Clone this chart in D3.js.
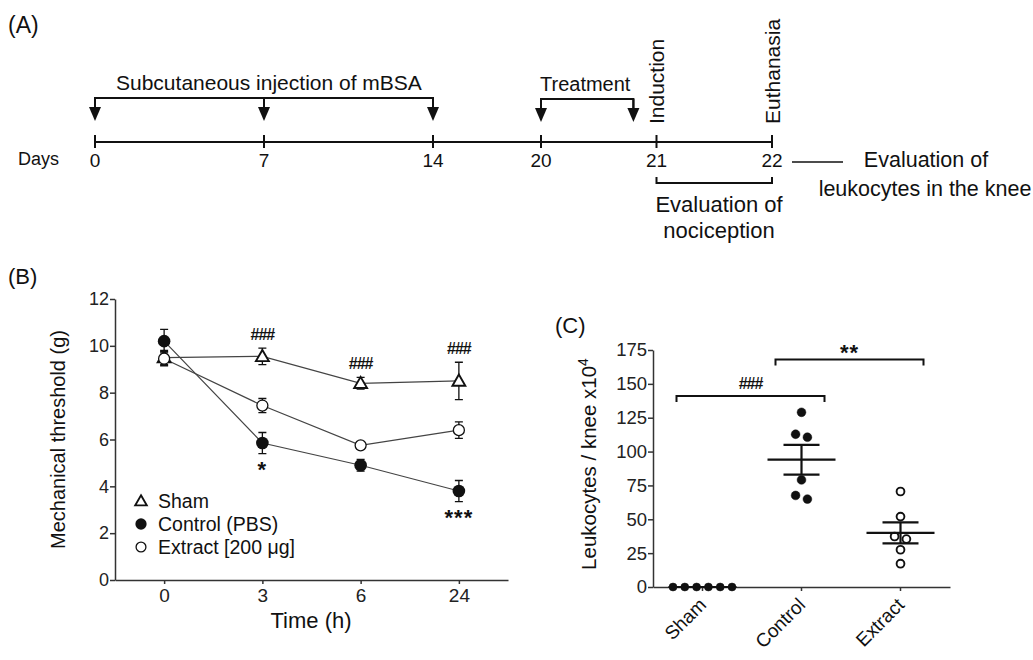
<!DOCTYPE html>
<html>
<head>
<meta charset="utf-8">
<script src="https://cdn.jsdelivr.net/npm/d3@7"></script>
<style>
  body { margin: 0; background: #fff; }
  svg { font-family: "Liberation Sans", Arial, sans-serif; fill: #111; }
</style>
</head>
<body>
<div id="chart"></div>
<script>
// ---- Panel A: protocol timeline ----
const timelineDays = [0, 7, 14, 20, 21, 22];
const injectionDays = [0, 7, 14];
const treatmentDays = [20, 20.8];
const eventDays = [21, 22];
const eventNames = ["Induction", "Euthanasia"];

// ---- Panel B: mechanical threshold over time ----
const timePoints = ["0", "3", "6", "24"];
const shamMean = [9.5, 9.55, 8.4, 8.5];
const shamErr = [0.3, 0.35, 0.25, 0.8];
const controlMean = [10.2, 5.85, 4.9, 3.8];
const controlErr = [0.5, 0.45, 0.25, 0.45];
const extractMean = [9.45, 7.45, 5.75, 6.4];
const extractErr = [0.3, 0.3, 0.15, 0.35];
const shamSig = ["", "###", "###", "###"];
const controlSig = ["", "*", "", "***"];
const thresholdTicks = [0, 2, 4, 6, 8, 10, 12];

// ---- Panel C: leukocytes per knee ----
const groups = ["Sham", "Control", "Extract"];
const shamCells = [0, 0, 0, 0, 0, 0];
const controlCells = [129, 112.8, 110.6, 79.1, 67.6, 64.9];
const extractCells = [70.5, 52, 37.3, 35.4, 27.5, 17.2];
const leukocyteTicks = [0, 25, 50, 75, 100, 125, 150, 175];
const bracketPairs = [["Sham", "Control"], ["Control", "Extract"]];
const bracketLevels = [141, 168];
const bracketLabels = ["###", "**"];

const svg = d3.select('#chart').append('svg')
  .attr('width', 1033)
  .attr('height', 660);

function styleAxis(g, fontSize) {
  g.select('.domain').attr('stroke', '#333').attr('stroke-width', 1.5);
  g.selectAll('.tick line').attr('stroke', '#333').attr('stroke-width', 1.5);
  g.selectAll('.tick text')
    .attr('fill', '#222')
    .style('font-size', fontSize + 'px')
    .style('font-family', '"Liberation Sans", Arial, sans-serif');
}

function panelLabel(x, y, t, size) {
  svg.append('text').attr('x', x).attr('y', y)
    .style('font-size', size + 'px').attr('fill', '#111').text(t);
}

// ================= Panel A =================
panelLabel(8, 33, '(A)', 23);

const day = d3.scaleLinear()
  .domain([0, 14, 20, 22])
  .range([95, 433, 541, 772]);
const lineY = 142;

const a = svg.append('g');

a.append('line')
  .attr('x1', day(0)).attr('x2', day(22))
  .attr('y1', lineY).attr('y2', lineY)
  .attr('stroke', '#111').attr('stroke-width', 2);

a.selectAll('.dtick').data(timelineDays).enter().append('line')
  .attr('x1', d => day(d)).attr('x2', d => day(d))
  .attr('y1', lineY - 7).attr('y2', lineY + 6)
  .attr('stroke', '#111').attr('stroke-width', 2);

a.selectAll('.dlabel').data(timelineDays).enter().append('text')
  .attr('x', d => day(d)).attr('y', 167)
  .attr('text-anchor', 'middle')
  .style('font-size', '19px')
  .text(d => d);

a.append('text').attr('x', 18).attr('y', 165)
  .style('font-size', '18px').text('Days');

// down-arrow brackets
function arrowBracket(days, yTop, label, labelSize, labelDx) {
  a.append('path')
    .attr('d', `M${day(days[0])},${yTop + 10}V${yTop}H${day(days[days.length - 1])}V${yTop + 10}`)
    .attr('fill', 'none').attr('stroke', '#111').attr('stroke-width', 2);
  days.forEach(d => {
    a.append('line')
      .attr('x1', day(d)).attr('x2', day(d))
      .attr('y1', yTop).attr('y2', yTop + 11)
      .attr('stroke', '#111').attr('stroke-width', 2);
    a.append('path')
      .attr('d', `M${day(d) - 6},${yTop + 9}L${day(d) + 6},${yTop + 9}L${day(d)},${yTop + 23}Z`)
      .attr('fill', '#111');
  });
  a.append('text')
    .attr('x', day(days[0]) + labelDx).attr('y', yTop - 8)
    .style('font-size', labelSize + 'px').text(label);
}
arrowBracket(injectionDays, 98, 'Subcutaneous injection of mBSA', 21, 21);
arrowBracket(treatmentDays, 99, 'Treatment', 20, -1);

eventDays.forEach((d, i) => {
  a.append('text')
    .attr('transform', `translate(${day(d) + 7.5},124) rotate(-90)`)
    .style('font-size', '21px')
    .text(eventNames[i]);
});

// nociception bracket
a.append('path')
  .attr('d', `M${day(21)},177V183H${day(22)}V177`)
  .attr('fill', 'none').attr('stroke', '#111').attr('stroke-width', 2);
a.append('text').attr('x', 719).attr('y', 212).attr('text-anchor', 'middle')
  .style('font-size', '22px').text('Evaluation of');
a.append('text').attr('x', 719).attr('y', 238).attr('text-anchor', 'middle')
  .style('font-size', '22px').text('nociception');

// leukocyte evaluation
a.append('line').attr('x1', 792).attr('x2', 843).attr('y1', 162).attr('y2', 162)
  .attr('stroke', '#111').attr('stroke-width', 1.5);
a.append('text').attr('x', 926).attr('y', 167).attr('text-anchor', 'middle')
  .style('font-size', '21.5px').text('Evaluation of');
a.append('text').attr('x', 925).attr('y', 196).attr('text-anchor', 'middle')
  .style('font-size', '21.5px').text('leukocytes in the knee');

// ================= Panel B =================
panelLabel(8, 284, '(B)', 22);

const bx = d3.scalePoint().domain(timePoints).range([115, 508]).padding(0.5);
const by = d3.scaleLinear().domain([0, 12]).range([580, 299]);

const b = svg.append('g');

b.append('g')
  .attr('transform', 'translate(115,0)')
  .call(d3.axisLeft(by).tickValues(thresholdTicks).tickSize(5).tickSizeOuter(0).tickPadding(1))
  .call(g => styleAxis(g, 18));

b.append('g')
  .attr('transform', 'translate(0,580)')
  .call(d3.axisBottom(bx).tickSize(4).tickSizeOuter(0).tickPadding(5))
  .call(g => styleAxis(g, 19));

b.append('text')
  .attr('x', 311).attr('y', 628).attr('text-anchor', 'middle')
  .style('font-size', '22px').text('Time (h)');

b.append('text')
  .attr('transform', `translate(65,${(299 + 580) / 2}) rotate(-90)`)
  .attr('text-anchor', 'middle')
  .style('font-size', '20px').text('Mechanical threshold (g)');

const seriesB = [
  { mean: shamMean, err: shamErr, shape: 'tri' },
  { mean: extractMean, err: extractErr, shape: 'open' },
  { mean: controlMean, err: controlErr, shape: 'filled' }
];

const line = d3.line().x((d, i) => bx(timePoints[i])).y(d => by(d));

seriesB.forEach(s => {
  b.append('path').datum(s.mean)
    .attr('d', line)
    .attr('fill', 'none').attr('stroke', '#444').attr('stroke-width', 1.2);
});

function drawMarker(g, shape, x, y, scale) {
  if (shape === 'tri') {
    g.append('path')
      .attr('d', d3.symbol(d3.symbolTriangle, 72 * scale)())
      .attr('transform', `translate(${x},${y + 1})`)
      .attr('fill', '#fff').attr('stroke', '#111').attr('stroke-width', 1.9);
  } else if (shape === 'filled') {
    g.append('circle').attr('cx', x).attr('cy', y).attr('r', 6.3 * Math.sqrt(scale))
      .attr('fill', '#111');
  } else {
    g.append('circle').attr('cx', x).attr('cy', y).attr('r', 5.5 * Math.sqrt(scale))
      .attr('fill', '#fff').attr('stroke', '#111').attr('stroke-width', 1.3);
  }
}

seriesB.forEach(s => {
  s.mean.forEach((m, i) => {
    const x = bx(timePoints[i]);
    const e = s.err[i];
    b.append('path')
      .attr('d', `M${x},${by(m + e)}V${by(m - e)}M${x - 4},${by(m + e)}H${x + 4}M${x - 4},${by(m - e)}H${x + 4}`)
      .attr('fill', 'none').attr('stroke', '#111').attr('stroke-width', 1.3);
  });
});
seriesB.forEach(s => {
  s.mean.forEach((m, i) => drawMarker(b, s.shape, bx(timePoints[i]), by(m), 1));
});

// significance marks
shamSig.forEach((t, i) => {
  if (!t) return;
  b.append('text')
    .attr('x', bx(timePoints[i])).attr('y', by(shamMean[i] + shamErr[i]) - 8)
    .attr('text-anchor', 'middle')
    .style('font-size', '16px').style('font-weight', 'bold').style('letter-spacing', '-1px')
    .text(t);
});
controlSig.forEach((t, i) => {
  if (!t) return;
  b.append('text')
    .attr('x', bx(timePoints[i])).attr('y', by(controlMean[i] - controlErr[i]) + 23)
    .attr('text-anchor', 'middle')
    .style('font-size', '22px').style('font-weight', 'bold').style('letter-spacing', '1px')
    .text(t);
});

// legend
const legendItems = [
  { shape: 'tri', label: 'Sham' },
  { shape: 'filled', label: 'Control (PBS)' },
  { shape: 'open', label: 'Extract [200 μg]' }
];
legendItems.forEach((d, i) => {
  const y = 501 + i * 23;
  drawMarker(b, d.shape, 141, y, 0.8);
  b.append('text').attr('x', 158).attr('y', y + 7)
    .style('font-size', '19.5px').text(d.label);
});

// ================= Panel C =================
panelLabel(555, 333, '(C)', 22);

const cx = d3.scaleBand().domain(groups).range([653, 950]).padding(0);
const cy = d3.scaleLinear().domain([0, 175]).range([587, 350]);
const c = svg.append('g');

c.append('g')
  .attr('transform', 'translate(653,0)')
  .call(d3.axisLeft(cy).tickValues(leukocyteTicks).tickSize(5).tickSizeOuter(0).tickPadding(1))
  .call(g => styleAxis(g, 18.5));

const cxAxis = c.append('g')
  .attr('transform', 'translate(0,587)')
  .call(d3.axisBottom(cx).tickSize(4).tickSizeOuter(0))
  .call(g => styleAxis(g, 18));
cxAxis.selectAll('.tick text').remove();

groups.forEach(gname => {
  c.append('text')
    .attr('transform', `translate(${cx(gname) + cx.bandwidth() / 2 + 5},606) rotate(-45)`)
    .attr('text-anchor', 'end')
    .style('font-size', '19px').text(gname);
});

const yLab = c.append('text')
  .attr('transform', `translate(596,464) rotate(-90)`)
  .attr('text-anchor', 'middle')
  .style('font-size', '20.5px');
yLab.append('tspan').text('Leukocytes / knee x10');
yLab.append('tspan').attr('dy', -8).style('font-size', '14px').text('4');

const cellSets = [
  { name: 'Sham', values: shamCells, open: false, r: 4 },
  { name: 'Control', values: controlCells, open: false, r: 4.4 },
  { name: 'Extract', values: extractCells, open: true, r: 3.9 }
];

// simple row-based scatter layout: points close in y share a row, spread symmetrically
function swarm(values) {
  const sorted = values.slice().sort((p, q) => q - p);
  const rows = [];
  sorted.forEach(v => {
    const last = rows[rows.length - 1];
    if (last && Math.abs(cy(last[0]) - cy(v)) < 9) last.push(v);
    else rows.push([v]);
  });
  const out = [];
  const step = 11.8;
  rows.forEach(row => row.forEach((v, i) => out.push({ v, dx: (i - (row.length - 1) / 2) * step })));
  return out;
}

cellSets.forEach(s => {
  const center = cx(s.name) + cx.bandwidth() / 2;
  const mean = d3.mean(s.values);
  const sem = d3.deviation(s.values) / Math.sqrt(s.values.length);

  c.selectAll(null).data(swarm(s.values)).enter().append('circle')
    .attr('cx', d => center + d.dx)
    .attr('cy', d => cy(d.v))
    .attr('r', s.r)
    .attr('fill', s.open ? '#fff' : '#111')
    .attr('stroke', '#111')
    .attr('stroke-width', s.open ? 1.9 : 0.5);

  c.append('path')
    .attr('d', `M${center - 34},${cy(mean)}H${center + 34}` +
      `M${center - 18},${cy(mean + sem)}H${center + 18}` +
      `M${center - 18},${cy(mean - sem)}H${center + 18}` +
      `M${center},${cy(mean + sem)}V${cy(mean - sem)}`)
    .attr('fill', 'none').attr('stroke', '#111').attr('stroke-width', 2.2);
});

bracketPairs.forEach((p, i) => {
  const x1 = cx(p[0]) + cx.bandwidth() / 2 - 26;
  const x2 = cx(p[1]) + cx.bandwidth() / 2 + 23;
  const y = cy(bracketLevels[i]);
  c.append('path')
    .attr('d', `M${x1},${y + 6}V${y}H${x2}V${y + 6}`)
    .attr('fill', 'none').attr('stroke', '#111').attr('stroke-width', 2);
  const isHash = bracketLabels[i].startsWith('#');
  c.append('text')
    .attr('x', (x1 + x2) / 2)
    .attr('y', isHash ? y - 7 : y + 1)
    .attr('text-anchor', 'middle')
    .style('font-size', isHash ? '16px' : '22px')
    .style('font-weight', 'bold')
    .style('letter-spacing', isHash ? '-1px' : '1px')
    .text(bracketLabels[i]);
});
</script>
</body>
</html>
